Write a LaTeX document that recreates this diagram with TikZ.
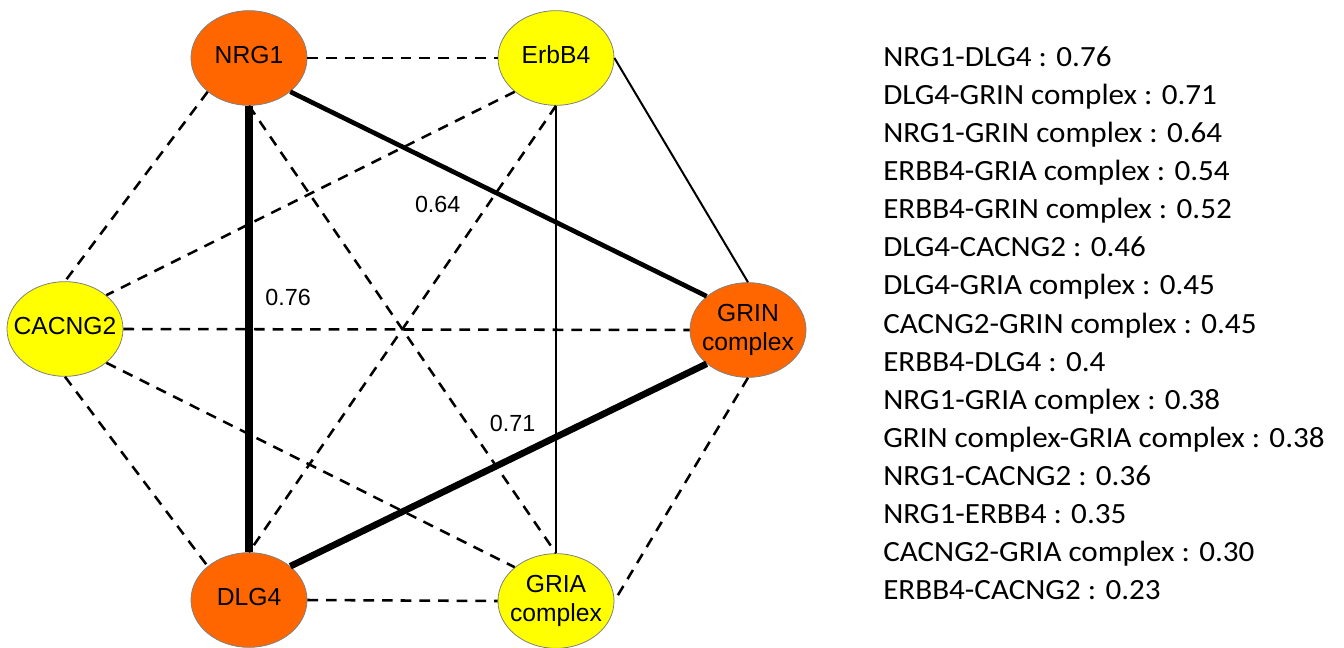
\documentclass[tikz,border=0pt]{standalone}
\usepackage{fontspec}
\setmainfont{Liberation Sans}
\newfontfamily\listfont[FakeStretch=1.06]{Carlito}
\usetikzlibrary{shapes.geometric}
\definecolor{hubcol}{HTML}{FF6600}
\definecolor{partcol}{HTML}{FFFF00}
\tikzset{
	genebox/.append style={
		ellipse,
		draw=gray,
		line width=0.6pt,
		minimum width=87pt,
		minimum height=71pt,
		inner sep=0pt,
		font=\fontsize{18.5}{22}\selectfont
	},
	hub/.append style={
		genebox,
		fill=hubcol,
	},
	partner/.append style={
		genebox,
		fill=partcol,
	},
	weak/.append style={
		dash pattern=on 8pt off 6pt,
		line width=1.9pt,
	},
	bond/.append style={
		line width=1.5pt,
	},
	corr/.append style={
		inner sep=1pt,
		font=\fontsize{17.5}{20}\selectfont
	},
	scoreline/.append style={
		anchor=base west,
		inner sep=0pt,
		font=\listfont\fontsize{22}{26}\selectfont
	}
}
\newcommand{\genelbl}[1]{\makebox[0pt]{\begin{tabular}{@{}c@{}}#1\end{tabular}}}

\begin{document}
\begin{tikzpicture}[x=0.75pt, y=-0.75pt]
\useasboundingbox (0,0) rectangle (1344,648);

\node(nrg)[hub] at (249,58) {\genelbl{NRG1}};
\node(erb)[partner] at (556,58) {\genelbl{ErbB4}};
\node(cac)[partner] at (65,329) {\genelbl{CACNG2}};
\node(grin)[hub] at (748,330) {\genelbl{GRIN\\complex}};
\node(dlg)[hub] at (249,600) {\genelbl{DLG4}};
\node(gria)[partner] at (556,601) {\genelbl{GRIA\\complex}};

% weak links
\draw[weak] (nrg.east) -- (erb.west);
\draw[weak] (nrg.south west) -- (cac.north);
\draw[weak] (nrg.south) -- (gria.north);
\draw[weak] (erb.south west) -- (cac.north east);
\draw[weak] (erb.south) -- (dlg.north);
\draw[weak] (cac.east) -- (grin.west);
\draw[weak] (cac.south) -- (dlg.north west);
\draw[weak] (cac.south east) -- (gria.north west);
\draw[weak] (dlg.east) -- (gria.west);
\draw[weak] (grin.south) -- (gria.east);

\draw[bond] (erb.east) -- (grin.north);
\draw[bond] (erb.south) -- (gria.north);

% strong links
\draw[line width=3.5pt] (nrg.south east) -- node[corr, pos=0.354, anchor=north, yshift=-21pt]{0.64} (grin.north west);
\draw[line width=6.5pt] (nrg.south) -- node[corr, pos=0.43, anchor=west, xshift=8pt]{0.76} (dlg.north);
\draw[line width=5pt] (dlg.north east) -- node[corr, pos=0.534, anchor=south, yshift=16pt]{0.71} (grin.south west);

\foreach \txt [count=\ii] in {NRG1-DLG4 : 0.76, DLG4-GRIN complex : 0.71, NRG1-GRIN complex : 0.64,
	ERBB4-GRIA complex : 0.54, ERBB4-GRIN complex : 0.52, DLG4-CACNG2 : 0.46,
	DLG4-GRIA complex : 0.45, CACNG2-GRIN complex : 0.45, ERBB4-DLG4 : 0.4,
	NRG1-GRIA complex : 0.38, GRIN complex-GRIA complex : 0.38, NRG1-CACNG2 : 0.36,
	NRG1-ERBB4 : 0.35, CACNG2-GRIA complex : 0.30, ERBB4-CACNG2 : 0.23} {
	\node(score\ii)[scoreline] at (883,{67+38*(\ii-1)}) {\txt};
};

\end{tikzpicture}
\end{document}
